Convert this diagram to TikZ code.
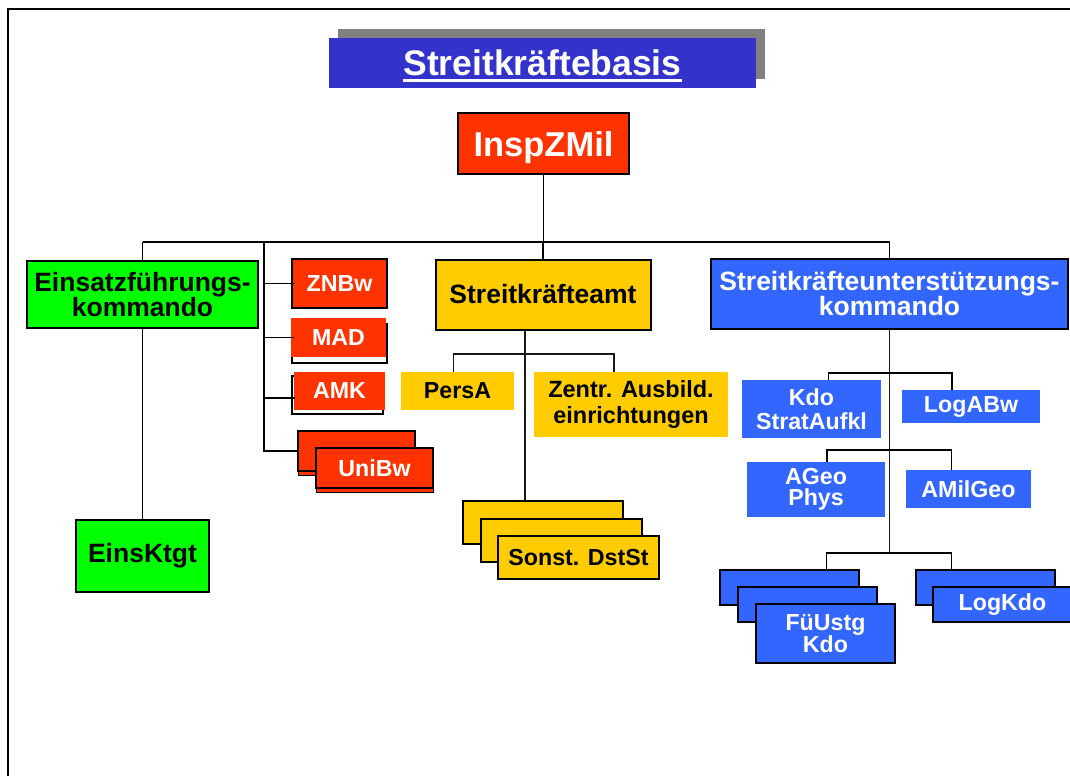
\documentclass[tikz,border=0pt]{standalone}
\usepackage{fontspec}
\setmainfont{Liberation Sans}
\usetikzlibrary{shadows}
\definecolor{skbRed}{HTML}{FF3300}
\definecolor{skbGreen}{HTML}{00FF00}
\definecolor{skbYellow}{HTML}{FFCC00}
\definecolor{skbBlue}{HTML}{3366FF}
\definecolor{skbTitle}{HTML}{3333CC}

\begin{document}
\begin{tikzpicture}[x=1pt,y=-1pt,
  unit/.style={rectangle,inner sep=0pt,align=center},
  sz/.style 2 args={minimum width=#1pt,minimum height=#2pt},
  rim/.style={draw=black,line width=2pt},
  bigtext/.style={font=\bfseries\fontsize{26.5}{25}\selectfont},
  smalltext/.style={font=\bfseries\fontsize{23.2}{24}\selectfont},
  redunit/.style={unit,smalltext,rim,fill=skbRed,text=white},
  greenunit/.style={unit,bigtext,rim,fill=skbGreen,text=black},
  yellowunit/.style={unit,smalltext,fill=skbYellow,text=black},
  blueunit/.style={unit,smalltext,fill=skbBlue,text=white},
  link/.style={line width=1.8pt},
  thinlink/.style={line width=1.1pt,black!90}]
\useasboundingbox (0,0) rectangle (1070,776);
%frame
\draw[line width=1.5pt] (8,776) -- (8,9) -- (1070,9);
%title
\fill[gray] (338,29) rectangle (765,79);
\fill[skbTitle] (329,38) rectangle (756,88);
\node[inner sep=0pt,anchor=base,text=white,font=\bfseries\fontsize{35.5}{36}\selectfont] (title) at (542.5,75) {Streitkräftebasis};
\draw[white,line width=3pt] ([yshift=-5pt]title.base west) -- ([yshift=-5pt]title.base east);
%top:
\node[unit,rim,fill=skbRed,text=white,sz={171}{61},text depth=0pt,font=\bfseries\fontsize{34.5}{34}\selectfont] (insp) at (543.5,143.5) {InspZMil};
%second row:
\node[greenunit,sz={231}{67}] (ein) at (142.5,294.5) {Einsatzführungs-\\kommando};
\node[yellowunit,rim,bigtext,sz={215}{70}] (amt) at (543,294.5) {Streitkräfteamt};
\node[blueunit,rim,bigtext,sz={357}{70}] (skuk) at (889.5,294) {Streitkräfteunterstützungs-\\kommando};
\coordinate (bus) at (543.5,242);
\coordinate (staff) at (264,242);
\draw[link] (insp) -- (bus);
\draw[link] (ein.north |- bus) -- (skuk.north |- bus);
\draw[link] (ein.north |- bus) -- (ein.north);
\draw[link] (amt.north |- bus) -- (amt.north);
\draw[link] (skuk.north |- bus) -- (skuk.north);
%EinsFueKdo
\node[greenunit,sz={133}{72}] (ktgt) at (142.5,556) {EinsKtgt};
\draw[link] (ein) -- (ktgt);
%red units:
\node[redunit,sz={95}{49}] (znbw) at (339.5,283.5) {ZNBw};
\node[redunit,draw=none,sz={95}{39},copy shadow={shadow xshift=1pt,shadow yshift=-6pt,fill=white,draw=black,line width=2pt}] (mad) at (338.5,337.5) {MAD};
\node[redunit,draw=none,sz={91}{38},copy shadow={shadow xshift=-2pt,shadow yshift=-4pt,fill=white,draw=black,line width=2pt}] (amk) at (339.5,391) {AMK};
\node[redunit,sz={117}{40},copy shadow={shadow xshift=0pt,shadow yshift=-4.5pt,fill=skbRed,draw=black,line width=0.8pt}] (uni1) at (356.5,451) {};
\node[redunit,sz={117}{40},copy shadow={shadow xshift=0pt,shadow yshift=-4.5pt,fill=skbRed,draw=black,line width=0.8pt}] (uni) at (374.5,468) {UniBw};
\draw[link] (staff) |- (uni1.west);
\draw[link] (staff |- znbw.west) -- ([xshift=4pt]znbw.west);
\draw[link] (staff |- mad.west) -- ([xshift=4pt]mad.west);
\draw[link] ([yshift=-7pt]staff |- amk.west) -- ([yshift=-7pt,xshift=2pt]amk.west);
%SKA
\node[yellowunit,sz={113}{38}] (persa) at (457.5,391) {PersA};
\node[yellowunit,sz={194}{65},font=\bfseries\fontsize{23.5}{26.7}\selectfont] (zentr) at (631,404.5) {Zentr. Ausbild.\\einrichtungen};
\node[yellowunit,rim,sz={160}{43}] (s1) at (543,522.5) {};
\node[yellowunit,rim,sz={161}{43}] (s2) at (561,540) {};
\node[yellowunit,rim,sz={161}{43}] (sonst) at (578.5,557.5) {Sonst. DstSt};
\coordinate (amtfork) at (525,354);
\draw[thinlink] ([xshift=-18pt]amt.south) -- ([xshift=-18pt]amt.south |- s1.north);
\draw[thinlink] ([xshift=-4pt]persa.north) |- (amtfork) -| ([xshift=-17pt]zentr.north);
%SKUKdo
\node[blueunit,sz={139}{58}] (kdo) at (811.5,409) {Kdo\\StratAufkl};
\node[blueunit,sz={138}{33}] (logabw) at (971,406.5) {LogABw};
\node[blueunit,sz={138}{55},font=\bfseries\fontsize{23.2}{21}\selectfont] (ageo) at (816,489.5) {AGeo\\Phys};
\node[blueunit,sz={125}{38}] (amilgeo) at (968.5,489) {AMilGeo};
\node[blueunit,rim,sz={139}{35}] (fu1) at (789.5,587.5) {};
\node[blueunit,rim,sz={139}{35}] (fu2) at (807.5,604.5) {};
\node[blueunit,rim,sz={139}{59},font=\bfseries\fontsize{23.2}{22.7}\selectfont] (fu) at (825.5,633.5) {FüUstg\\Kdo};
\node[blueunit,rim,sz={139}{35}] (log1) at (985.5,587.5) {};
\node[blueunit,rim,sz={139}{35}] (logkdo) at (1002.5,604.5) {LogKdo};
\coordinate (fork1) at (889.5,373);
\coordinate (fork2) at (889.5,450);
\coordinate (fork3) at (889.5,553);
\draw[thinlink] (skuk) -- (fork3);
\draw[link] ([xshift=17pt]kdo.north) |- (fork1) -| ([xshift=-19pt]logabw.north);
\draw[link] ([xshift=11pt]ageo.north) |- (fork2) -| ([xshift=-17pt]amilgeo.north);
\draw[link] ([xshift=37pt]fu1.north) |- (fork3) -| ([xshift=-34pt]log1.north);
\end{tikzpicture}
\end{document}
